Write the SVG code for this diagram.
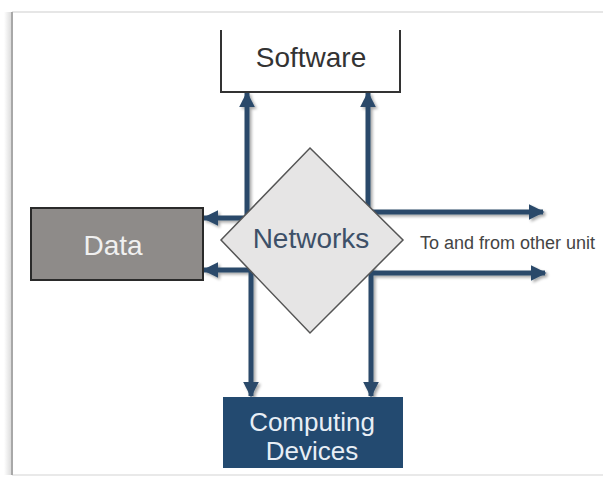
<svg xmlns="http://www.w3.org/2000/svg" width="603" height="484" viewBox="0 0 603 484">
  <style>
    .lbl { font-family: "Liberation Sans", Arial, sans-serif; text-anchor: middle; }
    .conn { stroke: #2b4a6b; stroke-width: 5; fill: none; }
  </style>
  <defs>
    <marker id="head" viewBox="0 0 10 10" refX="9" refY="5" markerWidth="3.2" markerHeight="3.2" orient="auto" markerUnits="strokeWidth">
      <path d="M0,0 L10,5 L0,10 Z" fill="#2b4a6b"/>
    </marker>
    <filter id="soft" x="-10%" y="-10%" width="130%" height="130%">
      <feGaussianBlur in="SourceAlpha" stdDeviation="1.5"/>
      <feOffset dx="2" dy="2" result="b"/>
      <feComponentTransfer><feFuncA type="linear" slope="0.35"/></feComponentTransfer>
      <feMerge><feMergeNode/><feMergeNode in="SourceGraphic"/></feMerge>
    </filter>
    <linearGradient id="edge" x1="0" x2="1" y1="0" y2="0">
      <stop offset="0" stop-color="#ffffff"/>
      <stop offset="1" stop-color="#d8d8d8"/>
    </linearGradient>
  </defs>

  <!-- page -->
  <rect width="603" height="484" fill="#ffffff"/>
  <rect x="4" y="12" width="8" height="463" fill="url(#edge)"/>
  <line x1="12" y1="12" x2="603" y2="12" stroke="#dedede" stroke-width="1.5"/>
  <line x1="12" y1="475" x2="603" y2="475" stroke="#e2e2e2" stroke-width="1.5"/>
  <line x1="12" y1="12" x2="12" y2="475" stroke="#a8a8a8" stroke-width="2"/>

  <!-- connectors -->
  <g id="connectors" filter="url(#soft)">
    <line class="conn" x1="247" y1="240" x2="247" y2="93" marker-end="url(#head)"/>
    <line class="conn" x1="368" y1="240" x2="368" y2="93" marker-end="url(#head)"/>
    <line class="conn" x1="251" y1="240" x2="251" y2="396" marker-end="url(#head)"/>
    <line class="conn" x1="371" y1="240" x2="371" y2="396" marker-end="url(#head)"/>
    <line class="conn" x1="249" y1="218" x2="204" y2="218" marker-end="url(#head)"/>
    <line class="conn" x1="253" y1="270" x2="204" y2="270" marker-end="url(#head)"/>
    <line class="conn" x1="366" y1="212" x2="543" y2="212" marker-end="url(#head)"/>
    <line class="conn" x1="369" y1="273" x2="545" y2="273" marker-end="url(#head)"/>
  </g>

  <!-- software -->
  <g id="software">
    <path d="M221,30 L221,92 L400,92 L400,30" fill="none" stroke="#333333" stroke-width="2"/>
    <text class="lbl" x="311" y="67" font-size="28" fill="#333333">Software</text>
  </g>

  <!-- data -->
  <g id="data">
    <rect x="31" y="208" width="172" height="72" fill="#8e8b89" stroke="#2a2a2a" stroke-width="2"/>
    <text class="lbl" x="113" y="255" font-size="28" fill="#f0f0f0">Data</text>
  </g>

  <!-- networks -->
  <g id="networks">
    <polygon points="310,148 403,240 310,333 221,240" fill="#e6e5e5" stroke="#555555" stroke-width="1.5"/>
    <text class="lbl" x="311" y="248" font-size="28" fill="#3d5068">Networks</text>
  </g>

  <!-- computing devices -->
  <g id="computing">
    <rect x="223" y="397" width="180" height="71" fill="#234a70"/>
    <text class="lbl" x="312" y="431" font-size="26" fill="#e8eef5">Computing</text>
    <text class="lbl" x="312" y="460" font-size="26" fill="#e8eef5">Devices</text>
  </g>

  <!-- outgoing label -->
  <g id="other-unit">
    <text x="420" y="249" font-family="Liberation Sans, Arial, sans-serif" font-size="18" fill="#444444">To and from other unit</text>
  </g>
</svg>
